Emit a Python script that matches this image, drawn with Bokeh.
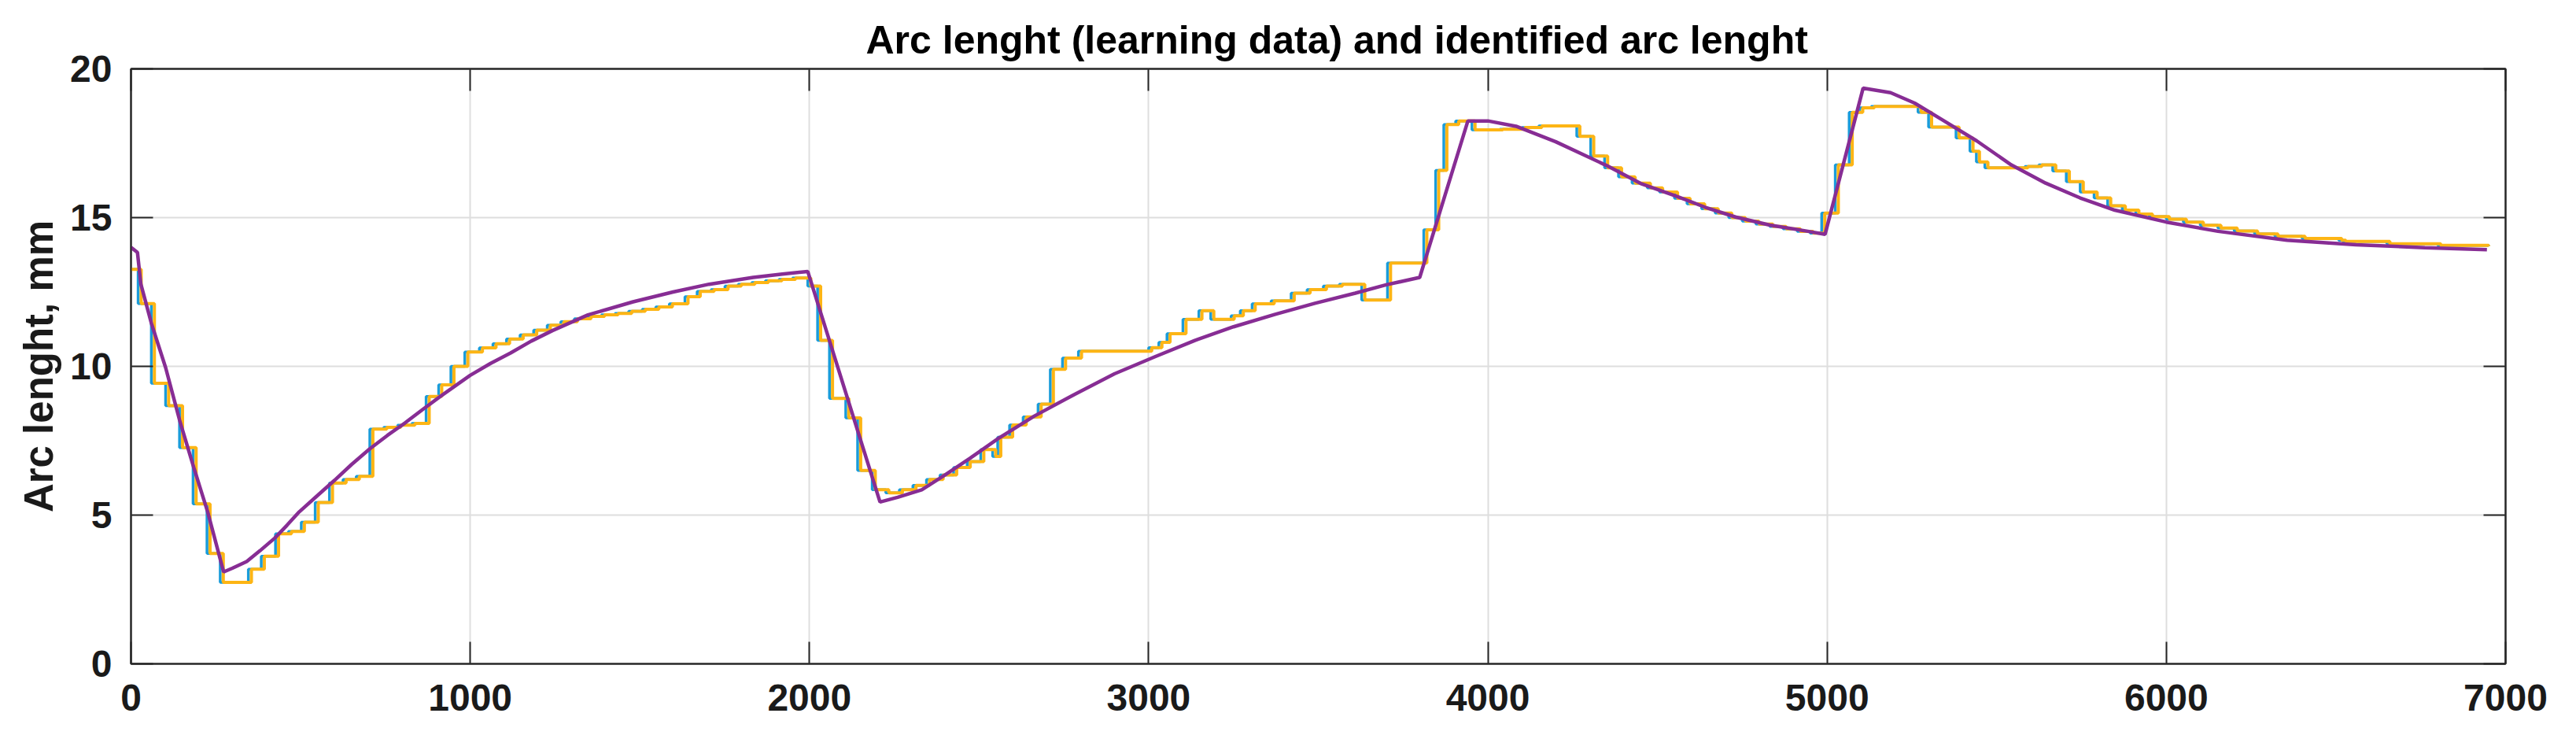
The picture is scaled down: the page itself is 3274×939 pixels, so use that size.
from bokeh.plotting import figure
from bokeh.models import Range1d, LinearAxis, FixedTicker
from bokeh.embed import file_html
from bokeh.resources import INLINE

# ---------------- data ----------------
title_text = "Arc lenght (learning data) and identified arc lenght"
y_label = "Arc lenght, mm"
x_ticks = [0, 1000, 2000, 3000, 4000, 5000, 6000, 7000]
y_ticks = [0, 5, 10, 15, 20]

# learning data: staircase levels (mm) and the sample times at which each level starts
learning_levels = [13.26, 12.11, 9.43, 8.68, 7.27, 5.38, 3.71, 2.74, 3.18, 3.62, 4.37, 4.45, 4.76, 5.42,
                   6.08, 6.2, 6.3, 7.89, 7.95, 8.02, 8.08, 8.99, 9.38, 10.0, 10.48, 10.62, 10.76, 10.92,
                   11.06, 11.22, 11.38, 11.5, 11.6, 11.68, 11.73, 11.78, 11.85, 11.92, 12.0, 12.1, 12.34,
                   12.52, 12.58, 12.7, 12.76, 12.82, 12.88, 12.92, 12.97, 12.7, 10.87, 8.92, 8.27, 6.5,
                   5.85, 5.75, 5.85, 6.0, 6.2, 6.35, 6.6, 6.8, 7.2, 6.97, 7.62, 8.03, 8.3, 8.73, 9.9,
                   10.28, 10.51, 10.63, 10.81, 11.1, 11.58, 11.87, 11.58, 11.7, 11.87, 12.1, 12.2, 12.46,
                   12.58, 12.7, 12.76, 12.23, 13.47, 14.59, 16.59, 18.13, 18.25, 17.95, 17.97, 18.03,
                   18.08, 17.73, 17.07, 16.67, 16.37, 16.16, 16.0, 15.86, 15.65, 15.46, 15.3, 15.15,
                   15.0, 14.88, 14.78, 14.7, 14.62, 14.54, 14.48, 15.15, 16.77, 18.54, 18.69, 18.74,
                   18.54, 18.04, 17.68, 17.23, 16.87, 16.67, 16.72, 16.77, 16.57, 16.21, 15.86, 15.66,
                   15.4, 15.25, 15.12, 15.03, 14.95, 14.85, 14.74, 14.65, 14.55, 14.45, 14.37, 14.3,
                   14.24, 14.2, 14.12, 14.07, 14.04]

blue_times = [0, 21, 60, 102, 143, 183, 224, 263, 346, 384, 426, 464, 502, 543, 585, 625, 664, 704,
              745, 786, 828, 870, 907, 943, 984, 1027, 1067, 1107, 1147, 1187, 1227, 1267, 1307, 1347,
              1387, 1427, 1467, 1507, 1547, 1587, 1633, 1669, 1710, 1751, 1790, 1830, 1870, 1910, 1950,
              1995, 2024, 2059, 2107, 2142, 2185, 2225, 2265, 2305, 2345, 2385, 2425, 2465, 2505, 2540,
              2555, 2590, 2630, 2674, 2710, 2746, 2793, 3000, 3030, 3054, 3101, 3148, 3183, 3243, 3270,
              3305, 3361, 3420, 3467, 3515, 3562, 3628, 3704, 3811, 3846, 3870, 3905, 3953, 4035, 4100,
              4150, 4262, 4303, 4344, 4385, 4425, 4470, 4506, 4550, 4587, 4630, 4670, 4710, 4750, 4790,
              4831, 4870, 4912, 4950, 4984, 5024, 5065, 5096, 5130, 5268, 5299, 5380, 5421, 5440, 5465,
              5583, 5624, 5665, 5705, 5746, 5787, 5827, 5870, 5910, 5950, 6000, 6050, 6100, 6152, 6200,
              6260, 6320, 6400, 6508, 6520, 6650, 6800, 6950]

orange_times = [0, 30, 69, 111, 152, 192, 233, 272, 355, 393, 435, 473, 511, 552, 594, 634, 673, 713,
                754, 795, 837, 879, 916, 952, 993, 1036, 1076, 1116, 1156, 1196, 1236, 1276, 1316, 1356,
                1396, 1436, 1476, 1516, 1556, 1596, 1642, 1678, 1719, 1760, 1799, 1839, 1879, 1919, 1959,
                2004, 2033, 2068, 2116, 2151, 2194, 2234, 2274, 2314, 2354, 2394, 2434, 2474, 2514, 2549,
                2564, 2599, 2639, 2683, 2719, 2755, 2802, 3009, 3039, 3063, 3110, 3157, 3192, 3252, 3279,
                3314, 3370, 3429, 3476, 3524, 3571, 3637, 3713, 3820, 3855, 3879, 3914, 3962, 4044, 4109,
                4159, 4271, 4312, 4353, 4394, 4434, 4479, 4515, 4559, 4596, 4639, 4679, 4719, 4759, 4799,
                4840, 4879, 4921, 4959, 4993, 5033, 5074, 5105, 5139, 5277, 5308, 5389, 5430, 5449, 5474,
                5592, 5633, 5674, 5714, 5755, 5796, 5836, 5879, 5919, 5959, 6009, 6059, 6109, 6161, 6209,
                6269, 6329, 6409, 6517, 6529, 6659, 6809, 6950]

# identified (model) arc length
model_x = [0, 19, 29, 60, 102, 143, 185, 226, 273, 300, 341, 380, 424, 460, 496, 550, 600, 650, 704,
           756, 808, 860, 912, 1000, 1060, 1119, 1180, 1242, 1347, 1480, 1598, 1704, 1834, 1920, 1995,
           2208, 2260, 2331, 2400, 2473, 2560, 2663, 2780, 2899, 3020, 3136, 3250, 3373, 3490, 3609,
           3700, 3799, 3941, 4000, 4083, 4200, 4350, 4450, 4556, 4640, 4730, 4831, 4943, 4994, 5106,
           5187, 5258, 5339, 5441, 5543, 5644, 5746, 5848, 6000, 6152, 6356, 6559, 6762, 6945]
model_y = [14.0, 13.83, 12.77, 11.45, 9.96, 8.2, 6.6, 5.11, 3.09, 3.22, 3.44, 3.8, 4.23, 4.66, 5.11,
           5.66, 6.17, 6.7, 7.23, 7.68, 8.1, 8.55, 8.99, 9.7, 10.1, 10.45, 10.85, 11.2, 11.73, 12.17,
           12.5, 12.76, 12.99, 13.1, 13.19, 5.44, 5.6, 5.85, 6.35, 6.91, 7.6, 8.33, 9.05, 9.75, 10.33,
           10.87, 11.33, 11.75, 12.12, 12.46, 12.74, 12.99, 18.25, 18.25, 18.07, 17.55, 16.75, 16.15,
           15.72, 15.35, 15.02, 14.75, 14.54, 14.44, 19.35, 19.2, 18.85, 18.29, 17.58, 16.77, 16.16,
           15.66, 15.25, 14.85, 14.54, 14.24, 14.09, 13.99, 13.92]

# ---------------- styling ----------------
FONT = "Liberation Sans"
AX_COLOR = "#262626"
BLUE = "#1A9CDA"
ORANGE = "#FDB515"
PURPLE = "#872D94"

p = figure(width=3266, height=931,
           x_range=Range1d(0, 7000), y_range=Range1d(0, 20),
           output_backend="svg", toolbar_location=None,
           min_border_left=166, min_border_right=82, min_border_top=87, min_border_bottom=88,
           background_fill_color="white", border_fill_color="white")

p.title.text = title_text
p.title.align = "left"
p.title.offset = 934
p.title.text_font = FONT
p.title.text_font_size = "50px"
p.title.text_font_style = "bold"
p.title.text_color = "#000000"
p.title.standoff = 17

p.outline_line_color = AX_COLOR
p.outline_line_width = 2
p.outline_line_alpha = 1.0

p.xaxis.ticker = FixedTicker(ticks=x_ticks)
p.yaxis.ticker = FixedTicker(ticks=y_ticks)
p.yaxis.axis_label = y_label

for ax in (p.xaxis[0], p.yaxis[0]):
    ax.major_label_text_font = FONT
    ax.major_label_text_font_size = "48px"
    ax.major_label_text_font_style = "bold"
    ax.major_label_text_color = "#1a1a1a"
    ax.major_tick_in = 28
    ax.major_tick_out = 0
    ax.minor_tick_line_color = None
    ax.axis_line_color = AX_COLOR
    ax.axis_line_width = 2
    ax.major_tick_line_color = AX_COLOR
    ax.major_tick_line_width = 2

p.xaxis.major_label_standoff = 26
p.yaxis.major_label_standoff = 24

p.yaxis.axis_label_text_font = FONT
p.yaxis.axis_label_text_font_size = "51px"
p.yaxis.axis_label_text_font_style = "bold"
p.yaxis.axis_label_text_color = "#1a1a1a"
p.yaxis.axis_label_standoff = 8

for loc, ticks in (("right", y_ticks), ("above", x_ticks)):
    ax = LinearAxis(ticker=FixedTicker(ticks=ticks))
    ax.major_label_text_font_size = "1px"
    ax.major_label_text_color = None
    ax.major_label_standoff = 0
    ax.major_tick_in = 28
    ax.major_tick_out = 0
    ax.minor_tick_line_color = None
    ax.axis_line_color = AX_COLOR
    ax.axis_line_width = 2
    ax.major_tick_line_color = AX_COLOR
    ax.major_tick_line_width = 2
    p.add_layout(ax, loc)

p.xgrid.grid_line_color = "#dedede"
p.ygrid.grid_line_color = "#dedede"
p.xgrid.grid_line_width = 2
p.ygrid.grid_line_width = 2

p.step(blue_times, learning_levels, mode="after", line_color=BLUE, line_width=3.5)
p.step(orange_times, learning_levels, mode="after", line_color=ORANGE, line_width=4)
p.line(model_x, model_y, line_color=PURPLE, line_width=4.5)

open("out.html", "w").write(file_html(p, INLINE))
